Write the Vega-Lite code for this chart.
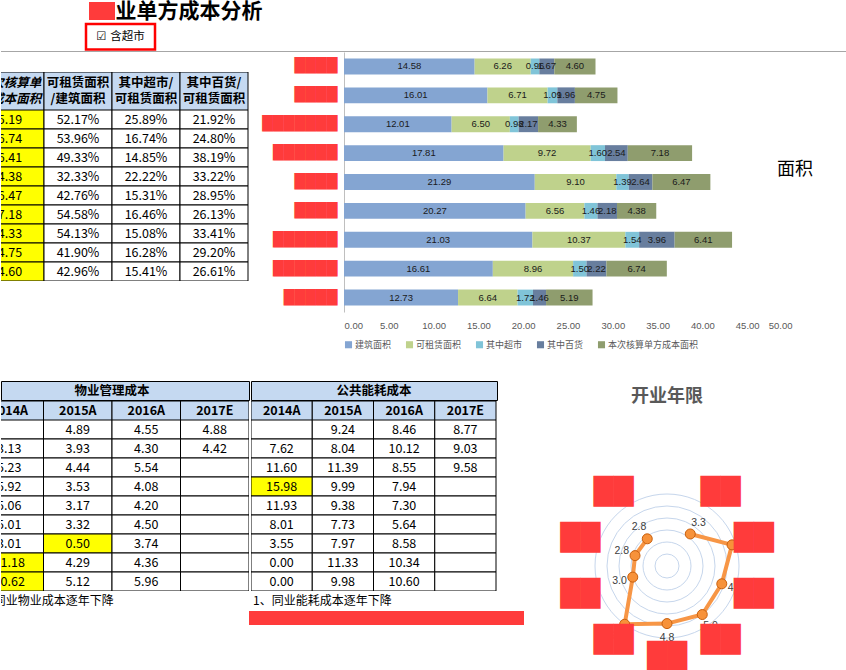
{
"$schema": "https://vega.github.io/schema/vega-lite/v6.json",
"padding": 0,
"background": "white",
"config": {"view": {"stroke": null}, "font": "Noto Sans CJK SC", "concat": {"spacing": 0}},
"datasets": {
"bars": [
{"name":"R9","series":"建筑面积","k":1,"v":14.58},{"name":"R9","series":"可租赁面积","k":2,"v":6.26},{"name":"R9","series":"其中超市","k":3,"v":0.96},{"name":"R9","series":"其中百货","k":4,"v":1.67},{"name":"R9","series":"本次核算单方成本面积","k":5,"v":4.60},
{"name":"R8","series":"建筑面积","k":1,"v":16.01},{"name":"R8","series":"可租赁面积","k":2,"v":6.71},{"name":"R8","series":"其中超市","k":3,"v":1.09},{"name":"R8","series":"其中百货","k":4,"v":1.96},{"name":"R8","series":"本次核算单方成本面积","k":5,"v":4.75},
{"name":"R7","series":"建筑面积","k":1,"v":12.01},{"name":"R7","series":"可租赁面积","k":2,"v":6.50},{"name":"R7","series":"其中超市","k":3,"v":0.98},{"name":"R7","series":"其中百货","k":4,"v":2.17},{"name":"R7","series":"本次核算单方成本面积","k":5,"v":4.33},
{"name":"R6","series":"建筑面积","k":1,"v":17.81},{"name":"R6","series":"可租赁面积","k":2,"v":9.72},{"name":"R6","series":"其中超市","k":3,"v":1.60},{"name":"R6","series":"其中百货","k":4,"v":2.54},{"name":"R6","series":"本次核算单方成本面积","k":5,"v":7.18},
{"name":"R5","series":"建筑面积","k":1,"v":21.29},{"name":"R5","series":"可租赁面积","k":2,"v":9.10},{"name":"R5","series":"其中超市","k":3,"v":1.39},{"name":"R5","series":"其中百货","k":4,"v":2.64},{"name":"R5","series":"本次核算单方成本面积","k":5,"v":6.47},
{"name":"R4","series":"建筑面积","k":1,"v":20.27},{"name":"R4","series":"可租赁面积","k":2,"v":6.56},{"name":"R4","series":"其中超市","k":3,"v":1.46},{"name":"R4","series":"其中百货","k":4,"v":2.18},{"name":"R4","series":"本次核算单方成本面积","k":5,"v":4.38},
{"name":"R3","series":"建筑面积","k":1,"v":21.03},{"name":"R3","series":"可租赁面积","k":2,"v":10.37},{"name":"R3","series":"其中超市","k":3,"v":1.54},{"name":"R3","series":"其中百货","k":4,"v":3.96},{"name":"R3","series":"本次核算单方成本面积","k":5,"v":6.41},
{"name":"R2","series":"建筑面积","k":1,"v":16.61},{"name":"R2","series":"可租赁面积","k":2,"v":8.96},{"name":"R2","series":"其中超市","k":3,"v":1.50},{"name":"R2","series":"其中百货","k":4,"v":2.22},{"name":"R2","series":"本次核算单方成本面积","k":5,"v":6.74},
{"name":"R1","series":"建筑面积","k":1,"v":12.73},{"name":"R1","series":"可租赁面积","k":2,"v":6.64},{"name":"R1","series":"其中超市","k":3,"v":1.72},{"name":"R1","series":"其中百货","k":4,"v":1.46},{"name":"R1","series":"本次核算单方成本面积","k":5,"v":5.19}
],
"top": [
{"r":1,"c1":"5.19","c2":"52.17%","c3":"25.89%","c4":"21.92%"},
{"r":2,"c1":"6.74","c2":"53.96%","c3":"16.74%","c4":"24.80%"},
{"r":3,"c1":"6.41","c2":"49.33%","c3":"14.85%","c4":"38.19%"},
{"r":4,"c1":"4.38","c2":"32.33%","c3":"22.22%","c4":"33.22%"},
{"r":5,"c1":"6.47","c2":"42.76%","c3":"15.31%","c4":"28.95%"},
{"r":6,"c1":"7.18","c2":"54.58%","c3":"16.46%","c4":"26.13%"},
{"r":7,"c1":"4.33","c2":"54.13%","c3":"15.08%","c4":"33.41%"},
{"r":8,"c1":"4.75","c2":"41.90%","c3":"16.28%","c4":"29.20%"},
{"r":9,"c1":"4.60","c2":"42.96%","c3":"15.41%","c4":"26.61%"}
],
"wy": [
{"r":1,"2014A":"","2015A":"4.89","2016A":"4.55","2017E":"4.88"},
{"r":2,"2014A":"3.13","2015A":"3.93","2016A":"4.30","2017E":"4.42"},
{"r":3,"2014A":"5.23","2015A":"4.44","2016A":"5.54","2017E":""},
{"r":4,"2014A":"5.92","2015A":"3.53","2016A":"4.08","2017E":""},
{"r":5,"2014A":"5.06","2015A":"3.17","2016A":"4.20","2017E":""},
{"r":6,"2014A":"5.01","2015A":"3.32","2016A":"4.50","2017E":""},
{"r":7,"2014A":"3.01","2015A":"0.50","2016A":"3.74","2017E":""},
{"r":8,"2014A":"11.18","2015A":"4.29","2016A":"4.36","2017E":""},
{"r":9,"2014A":"10.62","2015A":"5.12","2016A":"5.96","2017E":""}
],
"nh": [
{"r":1,"2014A":"","2015A":"9.24","2016A":"8.46","2017E":"8.77"},
{"r":2,"2014A":"7.62","2015A":"8.04","2016A":"10.12","2017E":"9.03"},
{"r":3,"2014A":"11.60","2015A":"11.39","2016A":"8.55","2017E":"9.58"},
{"r":4,"2014A":"15.98","2015A":"9.99","2016A":"7.94","2017E":""},
{"r":5,"2014A":"11.93","2015A":"9.38","2016A":"7.30","2017E":""},
{"r":6,"2014A":"8.01","2015A":"7.73","2016A":"5.64","2017E":""},
{"r":7,"2014A":"3.55","2015A":"7.97","2016A":"8.58","2017E":""},
{"r":8,"2014A":"0.00","2015A":"11.33","2016A":"10.34","2017E":""},
{"r":9,"2014A":"0.00","2015A":"9.98","2016A":"10.60","2017E":""}
],
"radar": [
{"k":1,"v":3.3},{"k":2,"v":5.7},{"k":3,"v":4.8},{"k":4,"v":5.0},{"k":5,"v":4.8},{"k":6,"v":6.0},{"k":7,"v":3.0},{"k":8,"v":2.8},{"k":9,"v":2.8}
]
},
"spacing": 0,
"resolve": {"scale": {"color": "independent"}, "legend": {"color": "independent"}},
"vconcat": [
{"spacing":0,"hconcat":[
  {"width":83,"height":48,"data":{"values":[]},"mark":"point","encoding":{}},
  {"spacing":0,"vconcat":[
    {"spacing":0,"hconcat":[
      {"width":3,"height":19.75,"data":{"values":[]},"mark":"point","encoding":{}},
      {"width":26,"height":18,"view":{"fill":"#FF3B3B","stroke":null},"data":{"values":[]},"mark":"point","encoding":{}},
      {"width":148,"height":19.75,"data":{"values":[{"t":"业单方成本分析"}]},"mark":{"type":"text","fontSize":21,"fontWeight":"bold","color":"#000000"},"encoding":{"text":{"field":"t"}}}
    ]},
    {"width":69,"height":25.5,"view":{"stroke":"#FF0000","strokeWidth":2.5},"data":{"values":[{"t":"☑ 含超市"}]},"mark":{"type":"text","fontSize":11.5,"font":"DejaVu Sans, Noto Sans CJK SC","color":"#000000"},"encoding":{"text":{"field":"t"}}}
  ]}
]},
{"width":846,"height":1,"view":{"fill":"#A6A6A6","stroke":null},"data":{"values":[]},"mark":"point","encoding":{}},
{"spacing":0,
 "resolve": {"scale": {"color": "independent"}, "legend": {"color": "independent"}},
 "hconcat":[
  {"spacing":0,"vconcat":[
    {"width":248,"height":19.5,"data":{"values":[]},"mark":"point","encoding":{}},
    {"width":248,"height":38,
     "data":{"values":[{"col":"c1","t":"本次核算单\n方成本面积"},{"col":"c2","t":"可租赁面积\n/建筑面积"},{"col":"c3","t":"其中超市/\n可租赁面积"},{"col":"c4","t":"其中百货/\n可租赁面积"}]},
     "encoding":{"x":{"field":"col","type":"nominal","scale":{"type":"band","domain":["c1","c2","c3","c4"],"range":[-25,247],"paddingInner":0,"paddingOuter":0},"axis":null}},
     "layer":[
       {"mark":{"type":"rect","fill":"#C5D9F1","stroke":"#000000","strokeWidth":1,"clip":true}},
       {"transform":[{"filter":"datum.col != 'c1'"}],"mark":{"type":"text","fontSize":12.5,"fontWeight":"bold","lineBreak":"\n","lineHeight":16,"dy":-8,"clip":true,"color":"#000000"},"encoding":{"text":{"field":"t"}}},
       {"transform":[{"filter":"datum.col == 'c1'"}],"mark":{"type":"text","fontSize":12.5,"fontWeight":"bold","fontStyle":"italic","lineBreak":"\n","lineHeight":16,"dy":-8,"clip":true,"color":"#000000"},"encoding":{"text":{"field":"t"}}}
     ]},
    {"width":248,"height":171,"data":{"name":"top"},
     "transform":[{"fold":["c1","c2","c3","c4"],"as":["col","t"]}],
     "encoding":{"x":{"field":"col","type":"nominal","scale":{"type":"band","domain":["c1","c2","c3","c4"],"range":[-25,247],"paddingInner":0,"paddingOuter":0},"axis":null},
                 "y":{"field":"r","type":"ordinal","scale":{"type":"band","paddingInner":0,"paddingOuter":0},"axis":null}},
     "layer":[
       {"mark":{"type":"rect","stroke":"#000000","strokeWidth":1,"clip":true},"encoding":{"fill":{"condition":{"test":"datum.col == 'c1'","value":"#FFFF00"},"value":"#FFFFFF"}}},
       {"mark":{"type":"text","fontSize":12.5,"clip":true,"color":"#000000"},"encoding":{"text":{"field":"t"}}}
     ]}
  ]},
  {"width":11.3,"height":10,"data":{"values":[]},"mark":"point","encoding":{}},
  {"width":448,"height":260,
   "data":{"name":"bars"},
   "transform":[{"stack":"v","groupby":["name"],"sort":[{"field":"k","order":"ascending"}],"as":["v0","v1"]}],
   "title":{"text":"面积","orient":"top","anchor":"end","offset":-127,"dx":21,"fontSize":18,"fontWeight":"normal","color":"#000000"},
   "encoding":{
     "y":{"field":"name","type":"nominal","sort":["R9","R8","R7","R6","R5","R4","R3","R2","R1"],"scale":{"type":"band","paddingInner":0.45,"paddingOuter":0.225},
          "axis":{"title":null,"domain":true,"domainColor":"#BFBFBF","ticks":false,"labelFont":"DejaVu Sans","labelFontSize":14,"labelColor":"#FF3B3B","labelPadding":7,
                  "labelExpr":"datum.value == 'R7' ? '███████' : ((datum.value == 'R6' || datum.value == 'R3' || datum.value == 'R2') ? '██████' : (datum.value == 'R1' ? '█████' : '████'))"}}
   },
   "layer":[
     {"mark":{"type":"bar"},
      "encoding":{
        "x":{"field":"v0","type":"quantitative","scale":{"domain":[0,50],"nice":false},
             "axis":{"title":null,"values":[0,5,10,15,20,25,30,35,40,45,50],"format":".2f","domain":false,"ticks":false,"grid":false,"labelFontSize":9.5,"labelColor":"#595959","labelPadding":8,"labelFont":"Liberation Sans"}},
        "x2":{"field":"v1"},
        "color":{"field":"series","type":"nominal",
        "scale":{"domain":["建筑面积","可租赁面积","其中超市","其中百货","本次核算单方成本面积"],"range":["#84A5D2","#BFD28C","#80C4D8","#687E9E","#8F9D6E"]},
        "legend":{"orient":"bottom","direction":"horizontal","title":null,"symbolType":"square","symbolSize":50,"symbolStrokeWidth":0,"labelFontSize":9,"labelColor":"#595959","columnPadding":13,"labelOffset":2,"offset":10}}}},
     {"transform":[{"fold":["v0","v1"],"as":["edge","pos"]},{"aggregate":[{"op":"mean","field":"pos","as":"mid"},{"op":"mean","field":"v","as":"val"}],"groupby":["name","series"]}],
      "mark":{"type":"text","fontSize":9.5,"font":"Liberation Sans","color":"#1A1A1A"},
      "encoding":{
        "x":{"field":"mid","type":"quantitative","scale":{"domain":[0,50],"nice":false},
             "axis":{"title":null,"values":[0,5,10,15,20,25,30,35,40,45,50],"format":".2f","domain":false,"ticks":false,"grid":false,"labelFontSize":9.5,"labelColor":"#595959","labelPadding":8,"labelFont":"Liberation Sans"}},
        "text":{"field":"val","type":"quantitative","format":".2f"}}}
   ]}
]},
{"spacing":0,"hconcat":[
  {"spacing":0,"vconcat":[
    {"width":10,"height":29.4,"data":{"values":[]},"mark":"point","encoding":{}},
    {"spacing":0,"hconcat":[
      {"spacing":0,"vconcat":[
        {"width":248,"height":19,"view":{"fill":"#C5D9F1","stroke":"#000000","strokeWidth":1},"data":{"values":[{"t":"物业管理成本"}]},
         "mark":{"type":"text","fontSize":12.5,"fontWeight":"bold","color":"#000000"},
         "encoding":{"text":{"field":"t"},"x":{"datum":"2016A","type":"nominal","bandPosition":0,"scale":{"type":"band","domain":["2014A","2015A","2016A","2017E"],"range":[-26,248],"paddingInner":0,"paddingOuter":0},"axis":null}}},
        {"width":248,"height":19,"data":{"values":[{"col":"2014A"},{"col":"2015A"},{"col":"2016A"},{"col":"2017E"}]},
         "encoding":{"x":{"field":"col","type":"nominal","scale":{"type":"band","domain":["2014A","2015A","2016A","2017E"],"range":[-26,248],"paddingInner":0,"paddingOuter":0},"axis":null}},
         "layer":[
           {"mark":{"type":"rect","fill":"#C5D9F1","stroke":"#000000","strokeWidth":1,"clip":true}},
           {"mark":{"type":"text","fontSize":12.5,"fontWeight":"bold","clip":true,"color":"#000000"},"encoding":{"text":{"field":"col"}}}
         ]},
        {"width":248,"height":171,"data":{"name":"wy"},
         "transform":[{"fold":["2014A","2015A","2016A","2017E"],"as":["col","t"]}],
         "encoding":{"x":{"field":"col","type":"nominal","scale":{"type":"band","domain":["2014A","2015A","2016A","2017E"],"range":[-26,248],"paddingInner":0,"paddingOuter":0},"axis":null},
                     "y":{"field":"r","type":"ordinal","scale":{"type":"band","paddingInner":0,"paddingOuter":0},"axis":null}},
         "layer":[
           {"mark":{"type":"rect","stroke":"#000000","strokeWidth":1,"clip":true},"encoding":{"fill":{"condition":{"test":"(datum.col == '2015A' && datum.r == 7) || (datum.col == '2014A' && datum.r >= 8)","value":"#FFFF00"},"value":"#FFFFFF"}}},
           {"mark":{"type":"text","fontSize":12.5,"clip":true,"color":"#000000"},"encoding":{"text":{"field":"t"}}}
         ]},
        {"width":248,"height":20,"data":{"values":[{"t":"1、同业物业成本逐年下降"}]},
         "mark":{"type":"text","fontSize":12,"align":"left","clip":true,"color":"#000000"},
         "encoding":{"text":{"field":"t"},"x":{"datum":"2014A","type":"nominal","bandPosition":0,"scale":{"type":"band","domain":["2014A","2015A","2016A","2017E"],"range":[-26,248],"paddingInner":0,"paddingOuter":0},"axis":null}}}
      ]},
      {"spacing":0,"vconcat":[
        {"width":246,"height":19,"view":{"fill":"#C5D9F1","stroke":"#000000","strokeWidth":1},"data":{"values":[{"t":"公共能耗成本"}]},
         "mark":{"type":"text","fontSize":12.5,"fontWeight":"bold","color":"#000000"},
         "encoding":{"text":{"field":"t"}}},
        {"width":246,"height":19,"data":{"values":[{"col":"2014A"},{"col":"2015A"},{"col":"2016A"},{"col":"2017E"}]},
         "encoding":{"x":{"field":"col","type":"nominal","scale":{"type":"band","domain":["2014A","2015A","2016A","2017E"],"range":[0,245],"paddingInner":0,"paddingOuter":0},"axis":null}},
         "layer":[
           {"mark":{"type":"rect","fill":"#C5D9F1","stroke":"#000000","strokeWidth":1,"clip":true}},
           {"mark":{"type":"text","fontSize":12.5,"fontWeight":"bold","clip":true,"color":"#000000"},"encoding":{"text":{"field":"col"}}}
         ]},
        {"width":246,"height":171,"data":{"name":"nh"},
         "transform":[{"fold":["2014A","2015A","2016A","2017E"],"as":["col","t"]}],
         "encoding":{"x":{"field":"col","type":"nominal","scale":{"type":"band","domain":["2014A","2015A","2016A","2017E"],"range":[0,245],"paddingInner":0,"paddingOuter":0},"axis":null},
                     "y":{"field":"r","type":"ordinal","scale":{"type":"band","paddingInner":0,"paddingOuter":0},"axis":null}},
         "layer":[
           {"mark":{"type":"rect","stroke":"#000000","strokeWidth":1,"clip":true},"encoding":{"fill":{"condition":{"test":"datum.col == '2014A' && datum.r == 4","value":"#FFFF00"},"value":"#FFFFFF"}}},
           {"mark":{"type":"text","fontSize":12.5,"clip":true,"color":"#000000"},"encoding":{"text":{"field":"t"}}}
         ]},
        {"width":246,"height":20,"data":{"values":[{"t":"1、同业能耗成本逐年下降"}]},
         "mark":{"type":"text","fontSize":12,"align":"left","dx":2,"color":"#000000"},
         "encoding":{"text":{"field":"t"},"x":{"datum":"2014A","type":"nominal","bandPosition":0,"scale":{"type":"band","domain":["2014A","2015A","2016A","2017E"],"range":[0,245],"paddingInner":0,"paddingOuter":0},"axis":null}}}
      ]}
    ]},
    {"spacing":0,"hconcat":[
      {"width":248,"height":15,"data":{"values":[]},"mark":"point","encoding":{}},
      {"width":275,"height":14,"view":{"fill":"#FF3B3B","stroke":null},"data":{"values":[]},"mark":"point","encoding":{}}
    ]}
  ]},
  {"width":33,"height":10,"data":{"values":[]},"mark":"point","encoding":{}},
  {"spacing":0,"vconcat":[
    {"width":220,"height":37.9,"data":{"values":[]},"mark":"point","encoding":{}},
    {"width":220,"height":210,
     "title":{"text":"开业年限","fontSize":18,"fontWeight":"bold","color":"#595959","offset":55,"anchor":"middle"},
     "layer":[
       {"data":{"values":[{"ring":1},{"ring":2},{"ring":3},{"ring":4},{"ring":5},{"ring":6}]},
        "mark":{"type":"arc","filled":false,"stroke":"#C6D6EC","strokeWidth":1},
        "encoding":{"radius":{"field":"ring","type":"quantitative","stack":false,"scale":{"type":"linear","domain":[0,6],"range":[0,72],"zero":true}}}},
       {"data":{"name":"radar"},
        "transform":[{"calculate":"datum.v*sin(datum.k*PI/5)","as":"px"},{"calculate":"datum.v*cos(datum.k*PI/5)","as":"py"}],
        "encoding":{"x":{"field":"px","type":"quantitative","scale":{"domain":[-9.1667,9.1667],"nice":false,"zero":false},"axis":null},
                    "y":{"field":"py","type":"quantitative","scale":{"domain":[-8.75,8.75],"nice":false,"zero":false},"axis":null},
                    "order":{"field":"k","type":"quantitative"}},
        "layer":[
          {"mark":{"type":"line","color":"#F79646","strokeWidth":4}},
          {"mark":{"type":"point","filled":true,"size":100,"fill":"#F7923A","stroke":"#C8600E","strokeWidth":1,"opacity":1}}
        ]},
       {"data":{"name":"radar"},
        "mark":{"type":"text","radiusOffset":14,"fontSize":10.5,"color":"#404040","font":"Liberation Sans"},
        "encoding":{"theta":{"field":"k","type":"quantitative","stack":false,"scale":{"domain":[0,10],"range":[0,6.283185307]}},
                    "radius":{"field":"v","type":"quantitative","stack":false,"scale":{"type":"linear","domain":[0,6],"range":[0,72],"zero":true}},
                    "text":{"field":"v","type":"quantitative","format":".1f"}}},
       {"data":{"name":"radar"},
        "mark":{"type":"text","fontSize":26,"font":"DejaVu Sans","color":"#FF3B3B","text":"██"},
        "encoding":{"theta":{"field":"k","type":"quantitative","stack":false,"scale":{"domain":[0,10],"range":[0,6.283185307]}},
                    "radius":{"datum":7.6,"type":"quantitative","scale":{"type":"linear","domain":[0,6],"range":[0,72],"zero":true}}}}
     ]}
  ]}
]}
]
}
